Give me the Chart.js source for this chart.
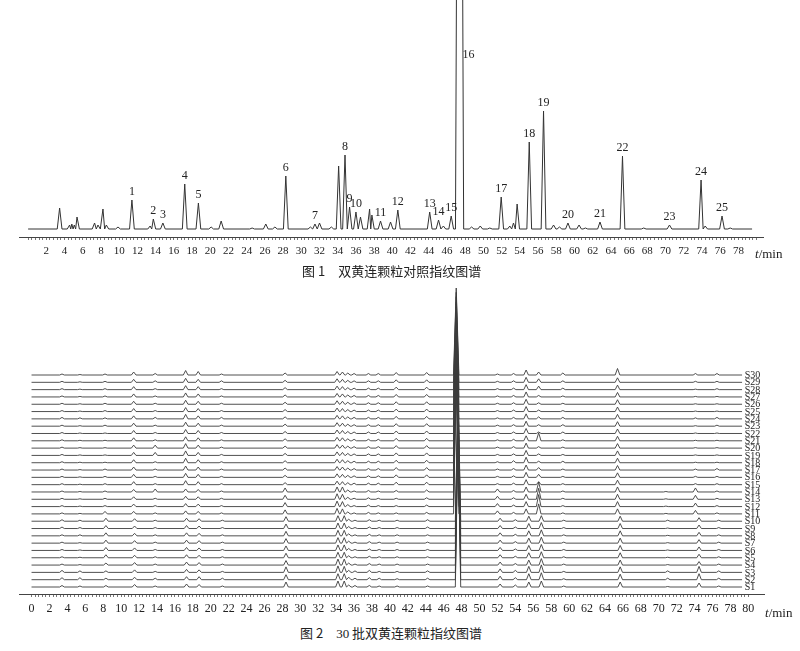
<!DOCTYPE html>
<html><head><meta charset="utf-8">
<script src="https://cdn.jsdelivr.net/npm/chart.js@4.4.0/dist/chart.umd.min.js"></script>
<style>
html,body{margin:0;padding:0;background:#fff;}
body{width:800px;height:651px;position:relative;overflow:hidden;}
canvas{position:absolute;left:0;}
#c1{top:0;}
#c2{top:280px;}
.cap{position:absolute;font-family:'Noto Sans CJK SC',sans-serif;font-size:13px;line-height:16px;color:#222;white-space:nowrap;}
.unit{position:absolute;font-family:'Liberation Serif','Times New Roman',serif;font-size:13px;line-height:16px;color:#222;white-space:nowrap;}
</style></head>
<body>
<canvas id="c1" width="800" height="265"></canvas>
<canvas id="c2" width="800" height="342"></canvas>
<div class="unit" style="left:755px;top:246px;"><i>t</i>/min</div>
<div class="cap" style="left:302px;top:263px;">图 1&emsp;双黄连颗粒对照指纹图谱</div>
<div class="unit" style="left:765px;top:605px;"><i>t</i>/min</div>
<div class="cap" style="left:300px;top:625px;">图 2&emsp;<span style="font-family:'Liberation Serif',serif;color:#222;">30</span> 批双黄连颗粒指纹图谱</div>
<script>
// ---------- Figure 1: reference chromatogram ----------
const refPeakNo = ['1','2','3','4','5','6','7','8','9','10','11','12','13','14','15','16','17','18','19','20','21','22','23','24','25'];
const refPeakTime = [11.4,13.75,14.8,17.2,18.7,28.3,31.5,34.8,35.3,36.0,38.7,40.6,44.1,45.07,46.46,47.38,51.95,55.03,56.6,59.28,62.8,65.27,70.43,73.9,76.2];
const refPeakHeight = [29,10,6,45,26,53,5,74,22,17,8,19,17,9,13,1000,32,87,118,6,7,73,4,49,13];
const refMinorTime = [3.46,4.56,4.8,5.07,5.37,7.3,7.67,8.22,8.59,9.87,13.4,20.1,21.2,24.6,26.1,27.1,31.0,32.0,33.3,34.1,36.5,37.5,37.75,39.8,45.6,48.7,49.65,50.7,52.9,53.3,53.7,57.7,58.35,60.5,61.2,67.6,74.35,77.1];
const refMinorHeight = [21,4,5,4,12,6,4,20,4,2,3,2,8,1,5,2,2,6,2,63,12,20,14,7,3,2,3,1,3,6,25,4,2,4,1,1,3,1];
const refBaseline = 8;

// ---------- Figure 2: 30 batches ----------
const sampleNames = ['S1','S2','S3','S4','S5','S6','S7','S8','S9','S10','S11','S12','S13','S14','S15','S16','S17','S18','S19','S20','S21','S22','S23','S24','S25','S26','S27','S28','S29','S30'];
// retention times of common peaks (S1–S10 elute slightly later)
const peakTimesS1toS10  = [3.4,5.4,8.3,11.5,13.8,17.3,18.7,21.3,28.4,34.2,34.9,35.4,36.1,37.7,38.8,40.8,44.2,47.6,52.3,54.0,55.5,56.9,59.4,65.7,71.0,74.5,76.7];
const peakTimesS11toS30 = [3.4,5.4,8.2,11.4,13.8,17.2,18.6,21.2,28.3,34.1,34.7,35.3,36.0,37.6,38.7,40.7,44.1,47.4,52.0,53.8,55.2,56.6,59.3,65.4,70.8,74.1,76.5];
const sampleHeights = [
 [1.5,1,1.5,2.5,1,3,2.5,1, 5,6,6,2,1.5,1.5,1,1,1, 150, 3,2,5,6,1,5,0.5,4,1],
 [2,2,1.5,2.5,1.5,3,3,1.5, 5,6,6,2.5,1.5,2,1.5,1,1.5, 152, 3.5,2,6,7,1,5.5,1.5,6,1.5],
 [2,1.5,1.5,2.5,1,3,2.5,1, 5.5,6.5,6,2,1.5,2,1,1,1.5, 150, 3.5,2,6,7.5,1,5.5,1.5,6,1.5],
 [1,0.5,2,2.5,1,3,2.5,1, 4.5,6,6,2,1,1.5,1,1,1, 148, 3,1.5,5,6.5,1,5,0.5,3.5,1],
 [1,0.5,3,2.5,1,3,2.5,1, 4.5,5.5,5.5,2,1,1.5,1,1,1, 145, 3,1.5,5,6,1,5,0.5,3.5,1],
 [1,0.5,3,2.5,1,3,2.5,1, 4.5,5.5,5.5,2,1,1.5,1,1,1, 142, 3,1.5,5,6,1,5,0.5,3.5,1],
 [1,0.5,3,2.5,1,3,2.5,1, 4.5,5.5,5.5,2,1,1.5,1,1,1, 139, 3,1.5,5,6,1,5,0.5,3.5,1],
 [1,1,3,2.5,1,3,2.5,1, 4.5,5.5,5.5,2,1,1.5,1,1,1, 136, 3,1.5,5,6,1,5,0.5,3.5,1],
 [1.5,1,3,2.5,1,3,2.5,1, 4.5,5.5,5.5,2,1,1.5,1,1,1.5, 133, 3,1.5,5,6,1,5,0.5,3.5,1],
 [1.5,1,3,2.5,1,3,2.5,1, 4.5,5.5,5.5,2,1,1.5,1,1,1.5, 130, 3,1.5,5,5.5,1,5,1,3.5,1],
 [1,0.5,2.5,2.5,1,3,2.5,1, 4,5.5,5,2,1,1.5,1,1,1.5, 135, 3,1.5,5,10,1,5,0.5,3.5,1],
 [1,0.5,1,2.5,1,3,2.5,1, 4,5.5,5,2,1,1.5,1,1,1.5, 133, 3,1.5,5,12,1,5,0.5,3.5,1],
 [1,0.5,1,2.5,1,3,2.5,1, 4,5.5,5,2,1,1.5,1,1,1.5, 130, 3,1.5,5,11,1,5,0.5,4,1],
 [1,0.5,1,2.5,3,3,2.5,1, 4,5,5,2,1,1.5,1,1.5,2, 128, 3,1.5,5,10,1,5,0.5,4,1],
 [1,0.5,1,3,1,4,3,1, 2,3.5,3,2,1.5,1.5,1.5,2.5,2.5, 125, 1,1.5,5,3,1,4.5,0,1,1],
 [1,0.5,1,3,1,4,3,1, 2,3.5,3,2,1.5,1.5,1.5,2.5,2.5, 123, 1,1.5,5,3,1,4.5,0,1,1],
 [1,0.5,1,3,1,4,3,1, 2,3.5,3,2,1.5,1.5,1.5,2.5,2.5, 120, 1,1.5,5,2.5,1,4.5,0,1,1.5],
 [1,0.5,0.5,3,1,4.5,3,1, 2,3.5,3,2,1.5,1.5,1.5,2.5,2.5, 118, 1,2,5.5,1.5,1.5,4.5,0,0.5,0.5],
 [1,0.5,0.5,3,3,4.5,3,1, 2,3.5,3,2,1.5,1.5,1.5,2.5,2.5, 115, 1,1.5,5,1.5,1,4.5,0,0.5,0.5],
 [1,0.5,0.5,3,3,4.5,3,1, 2,3.5,3,2,1.5,1.5,1.5,2.5,2.5, 112, 1,1.5,5,1.5,1,4.5,0,0.5,0.5],
 [1,0.5,0.5,3,1,4,3,1, 2,3.5,3,2,1.5,1.5,1.5,2.5,2.5, 110, 1,1.5,5,8,1,4.5,0,0.5,0.5],
 [1,0.5,0.5,3,1,4,3,1, 2,3.5,3,2,1.5,1.5,1.5,2.5,2.5, 105, 1,1.5,5,1.5,1.5,4.5,0,0.5,0.5],
 [1,0.5,1,3,1,4,3,1, 2,3.5,3,2,1.5,1.5,1.5,2.5,2.5, 100, 1,1.5,5,1.5,1.5,4.5,0,0.5,1],
 [1.5,1,1,3,1.5,4.5,3,1.5, 2,3.5,3,2,1.5,1.5,1.5,2.5,2.5, 103, 1,1.5,5,2,1.5,4.5,0,1,1.5],
 [1,0.5,1,3,1,4,3,1, 2,3.5,3,2,1.5,1.5,1.5,2.5,2.5, 100, 1,1.5,5,1.5,1,4.5,0,0.5,0.5],
 [1,0.5,1,3,1,4,3,1, 2,3.5,3,2,1.5,1.5,1.5,2.5,2.5, 97, 1,1.5,5,1.5,1,4.5,0,0.5,0.5],
 [1,0.5,1,3,1,4,3,1, 2,3.5,3,2,1.5,1.5,1.5,2.5,2.5, 95, 1,1.5,5,1.5,1,4.5,0,0.5,0.5],
 [1,0.5,1,3,1,4,3,1, 2,3.5,3,2,1.5,1.5,1.5,2.5,2.5, 93, 1,1.5,5,3.5,1.5,4.5,0,0.5,1],
 [1,0.5,1,3,1.5,4,3,1.5, 2,3.5,3,2,1.5,1.5,1.5,2.5,2.5, 90, 1,1.5,5,3.5,1.5,4.5,0,1,1],
 [1,0.5,1,3,1.5,4.5,3.5,1, 2,3.5,3,2,1.5,1.5,1.5,2.5,2.5, 87, 1,1.5,5,3,2,6.5,0,1.5,1.5]
];

// ---------- helpers ----------
const SERIF = "'Liberation Serif','Times New Roman',serif";

function buildTrace(times, heights, base, tEnd, hwNormal, hwMain){
  const maxH = Math.max(...heights);
  const pk = times.map((t,i)=>({t:t,h:heights[i]})).filter(p=>p.h>0).sort((a,b)=>a.t-b.t);
  const pts=[{x:0,y:base}];
  pk.forEach((p,i)=>{
    const hw = p.h===maxH ? hwMain : hwNormal;
    const gl = i>0 ? (p.t-pk[i-1].t)/2 : hw;
    const gr = i<pk.length-1 ? (pk[i+1].t-p.t)/2 : hw;
    pts.push({x:p.t-Math.min(hw,gl),y:base},{x:p.t,y:base+p.h},{x:p.t+Math.min(hw,gr),y:base});
  });
  pts.push({x:tEnd,y:base});
  return pts;
}
function axisTicks(lo,hi,step){
  const out=[];
  for(let k=0; lo+k*step<=hi+1e-9; k++) out.push(Math.round((lo+k*step)*10)/10);
  return out;
}
function xScaleOpts(min,max,labLo,labHi,fontSize){
  return {
    type:'linear', min:min, max:max,
    afterBuildTicks: s => { s.ticks = axisTicks(0,80,0.4).map(v=>({value:v})); },
    afterFit: s => { s.height = 28; },
    ticks:{autoSkip:false,maxRotation:0,minRotation:0,padding:5,color:'#222',
      font:{family:SERIF,size:fontSize},
      callback: v => (Number.isInteger(v) && v%2===0 && v>=labLo && v<=labHi) ? String(v) : ''},
    grid:{display:true,drawOnChartArea:false,drawTicks:true,tickLength:3,color:'#777',lineWidth:1},
    border:{display:true,color:'#444',width:1}
  };
}

// ---------- chart 1 ----------
const refData = buildTrace(refPeakTime.concat(refMinorTime), refPeakHeight.concat(refMinorHeight), refBaseline, 79.5, 0.26, 0.45);

const refLabels = {
  id:'refLabels',
  afterDatasetsDraw(chart){
    const {ctx, chartArea, scales:{x,y}} = chart;
    ctx.save();
    ctx.font = '12px '+SERIF; ctx.fillStyle='#222'; ctx.textAlign='center'; ctx.textBaseline='middle';
    refPeakNo.forEach((lab,i)=>{
      const px = x.getPixelForValue(refPeakTime[i]);
      const py = y.getPixelForValue(refBaseline+refPeakHeight[i]);
      if(py < chartArea.top+30) ctx.fillText(lab, px+9, chartArea.top+55);
      else ctx.fillText(lab, px, py-8);
    });
    ctx.restore();
  }
};

new Chart(document.getElementById('c1'),{
  type:'line',
  data:{datasets:[{data:refData,borderColor:'#333',borderWidth:1,pointRadius:0,tension:0,fill:false}]},
  options:{
    responsive:false, animation:false, events:[],
    layout:{padding:{left:19,right:37,top:0,bottom:0}},
    plugins:{legend:{display:false},tooltip:{enabled:false}},
    scales:{ x:xScaleOpts(-1,80.7,2,78,11), y:{display:false,min:0,max:237} }
  },
  plugins:[refLabels]
});

// ---------- chart 2 ----------
const STEP = 7.31, BASE0 = 7;
const sampleSets = sampleNames.map((name,i)=>({
  label:name,
  data: buildTrace(i<10?peakTimesS1toS10:peakTimesS11toS30, sampleHeights[i], BASE0+i*STEP, 79.3, 0.26, 0.3),
  borderColor:'#3c3c3c', borderWidth:0.9, pointRadius:0, tension:0, fill:false
}));

const sampleLabels = {
  id:'sampleLabels',
  afterDatasetsDraw(chart){
    const {ctx, scales:{x,y}} = chart;
    ctx.save();
    ctx.font = '10px '+SERIF; ctx.fillStyle='#222'; ctx.textAlign='left'; ctx.textBaseline='middle';
    sampleNames.forEach((n,i)=>{
      ctx.fillText(n, x.getPixelForValue(79.6), y.getPixelForValue(BASE0+i*STEP)+0.5);
    });
    ctx.restore();
  }
};

new Chart(document.getElementById('c2'),{
  type:'line',
  data:{datasets:sampleSets},
  options:{
    responsive:false, animation:false, events:[],
    layout:{padding:{left:19,right:36,top:0,bottom:0}},
    plugins:{legend:{display:false},tooltip:{enabled:false}},
    scales:{ x:xScaleOpts(-1.4,81.75,0,80,12), y:{display:false,min:0,max:314} }
  },
  plugins:[sampleLabels]
});
</script>
</body></html>
